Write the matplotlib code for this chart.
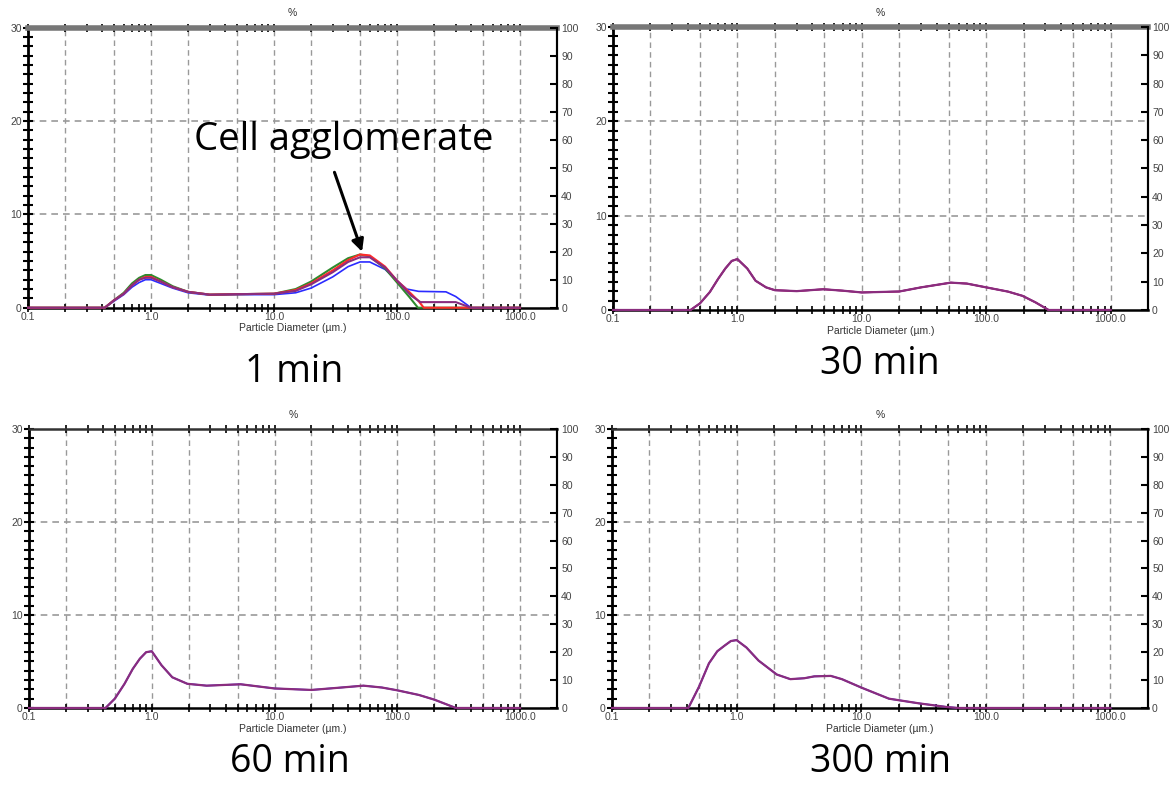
import numpy as np
import matplotlib.pyplot as plt
from matplotlib.ticker import FixedLocator, NullFormatter

# ---- data (particle diameter um, volume %) ----
# 1 min, four repeat runs
tl_red_x = [0.1, 0.42, 0.5, 0.6, 0.7, 0.8, 0.9, 1.0, 1.2, 1.5, 2.0, 3.0, 5.0, 10, 15, 20, 30, 40, 50, 60, 80, 100, 130, 150, 165, 1000]
tl_red_y = [0, 0, 0.8, 1.5, 2.4, 3.0, 3.3, 3.3, 2.8, 2.2, 1.7, 1.4, 1.45, 1.5, 1.9, 2.6, 4.0, 5.1, 5.7, 5.6, 4.4, 2.9, 1.5, 0.7, 0, 0]
tl_green_x = [0.1, 0.42, 0.5, 0.6, 0.7, 0.8, 0.9, 1.0, 1.2, 1.5, 2.0, 3.0, 5.0, 10, 15, 20, 30, 40, 50, 60, 80, 100, 125, 148, 1000]
tl_green_y = [0, 0, 0.8, 1.6, 2.6, 3.2, 3.5, 3.5, 3.0, 2.3, 1.7, 1.4, 1.45, 1.5, 2.0, 2.8, 4.3, 5.3, 5.7, 5.5, 4.2, 2.7, 1.2, 0, 0]
tl_blue_x = [0.1, 0.42, 0.5, 0.6, 0.7, 0.8, 0.9, 1.0, 1.2, 1.5, 2.0, 3.0, 5.0, 10, 15, 20, 30, 40, 50, 60, 80, 100, 120, 150, 250, 300, 400, 1000]
tl_blue_y = [0, 0, 0.7, 1.4, 2.2, 2.7, 3.0, 3.0, 2.6, 2.1, 1.6, 1.35, 1.4, 1.4, 1.6, 2.1, 3.3, 4.4, 4.9, 4.9, 4.1, 2.9, 2.0, 1.75, 1.7, 1.2, 0, 0]
tl_purple_x = [0.1, 0.42, 0.5, 0.6, 0.7, 0.8, 0.9, 1.0, 1.2, 1.5, 2.0, 3.0, 5.0, 10, 15, 20, 30, 40, 50, 60, 80, 100, 130, 155, 300, 400, 1000]
tl_purple_y = [0, 0, 0.8, 1.5, 2.4, 3.0, 3.2, 3.2, 2.8, 2.2, 1.7, 1.4, 1.45, 1.5, 1.8, 2.5, 3.8, 4.9, 5.4, 5.4, 4.3, 2.9, 1.3, 0.6, 0.6, 0, 0]

# 30 min
tr_x = [0.1, 0.42, 0.5, 0.6, 0.7, 0.8, 0.9, 1.0, 1.2, 1.4, 1.7, 2.0, 3.0, 4.9, 7.0, 10, 20, 30, 52, 70, 100, 150, 196, 250, 318, 1000]
tr_y = [0, 0, 0.7, 1.9, 3.3, 4.4, 5.2, 5.4, 4.4, 3.1, 2.4, 2.1, 2.0, 2.2, 2.05, 1.86, 1.96, 2.4, 2.9, 2.8, 2.4, 1.95, 1.5, 0.8, 0, 0]

# 60 min
bl_x = [0.1, 0.42, 0.5, 0.6, 0.7, 0.8, 0.9, 1.0, 1.2, 1.47, 1.95, 2.8, 5.3, 10, 20, 35, 53, 75, 100, 150, 200, 300, 1000]
bl_y = [0, 0, 1.0, 2.6, 4.2, 5.3, 6.0, 6.1, 4.6, 3.3, 2.6, 2.4, 2.55, 2.1, 1.94, 2.2, 2.4, 2.2, 1.9, 1.4, 0.9, 0, 0]

# 300 min
br_x = [0.1, 0.41, 0.5, 0.6, 0.7, 0.8, 0.9, 1.0, 1.2, 1.5, 2.1, 2.7, 3.5, 4.2, 5.7, 7.0, 10, 16.7, 29, 49, 60, 1000]
br_y = [0, 0, 2.3, 4.8, 6.1, 6.7, 7.2, 7.3, 6.5, 5.1, 3.6, 3.1, 3.2, 3.4, 3.45, 3.1, 2.2, 1.0, 0.5, 0.1, 0, 0]

decade_labels = ['0.1', '1.0', '10.0', '100.0', '1000.0']
decades = [0.1, 1, 10, 100, 1000]
grid_x = [0.2, 0.5, 1, 2, 5, 10, 20, 50, 100, 200, 500, 1000]
minor_x = [m * d for d in [0.1, 1, 10, 100, 1000] for m in range(2, 10) if m * d < 2000]

plt.rcParams['font.family'] = ['Liberation Sans', 'DejaVu Sans']
fig = plt.figure(figsize=(11.69, 7.87), dpi=100)


def make_panel(rect, thick_top):
    ax = fig.add_axes(rect)
    ax.set_xscale('log')
    ax.set_xlim(0.1, 2000)
    ax.set_ylim(0, 30)
    ax.xaxis.set_major_locator(FixedLocator(decades))
    ax.set_xticklabels(decade_labels)
    ax.xaxis.set_minor_locator(FixedLocator(minor_x))
    ax.xaxis.set_minor_formatter(NullFormatter())
    ax.set_yticks([0, 10, 20, 30])
    ax.yaxis.set_minor_locator(FixedLocator(range(0, 31)))
    ax.tick_params(axis='x', which='both', direction='inout', length=6, width=1.2,
                   top=True, labelsize=7.5, pad=0, labelcolor='#444444')
    ax.tick_params(axis='y', which='both', direction='inout', length=7, width=1.5,
                   labelsize=7.5, pad=1, labelcolor='#444444')
    for v in grid_x:
        ax.axvline(v, color='#999999', ls=(0, (4, 3)), lw=1.0, zorder=0)
    for v in [10, 20]:
        ax.axhline(v, color='#999999', ls=(0, (4, 3)), lw=1.2, zorder=0)
    ax.spines['left'].set_linewidth(2.0)
    ax.spines['bottom'].set_linewidth(1.8)
    ax.spines['right'].set_linewidth(1.5)
    if thick_top:
        ax.spines['top'].set_linewidth(4)
        ax.spines['top'].set_color('#777777')
    else:
        ax.spines['top'].set_linewidth(1.8)
        ax.spines['top'].set_color('#333333')
    ax.set_xlabel('Particle Diameter (µm.)', fontsize=7.5, labelpad=1, color='#333333')
    ax.set_title('%', fontsize=7.5, pad=8, color='#333333')

    ax2 = ax.twinx()
    ax2.set_ylim(0, 100)
    ax2.set_yticks(range(0, 101, 10))
    ax2.tick_params(axis='y', direction='in', length=5, width=1.5, labelsize=7.5,
                    pad=3, labelcolor='#444444')
    ax2.spines['right'].set_linewidth(1.5)
    for s in ['left', 'top', 'bottom']:
        ax2.spines[s].set_visible(False)
    return ax


purple = '#8a2d7e'
big_font = ['Open Sans', 'DejaVu Sans']
big = dict(fontsize=27, family=big_font, ha='center', va='center')
line_kw = dict(zorder=3, clip_on=False)

ax1 = make_panel([0.024, 0.609, 0.4525, 0.356], True)
ax1.plot(tl_blue_x, tl_blue_y, color='#2b2bff', lw=1.2, **line_kw)
ax1.plot(tl_green_x, tl_green_y, color='#2e8b2e', lw=1.5, **line_kw)
ax1.plot(tl_red_x, tl_red_y, color='#ff2a2a', lw=1.5, **line_kw)
ax1.plot(tl_purple_x, tl_purple_y, color=purple, lw=1.5, **line_kw)
ax1.text(37, 18.0, 'Cell agglomerate', fontsize=27.5, family=big_font, ha='center', va='center')
ax1.annotate('', xy=(52, 6.0), xytext=(31, 14.5),
             arrowprops=dict(arrowstyle='-|>', color='black', lw=2.2, mutation_scale=18,
                             shrinkA=0, shrinkB=0))
fig.text(0.252, 0.527, '1 min', **big)

ax2 = make_panel([0.5244, 0.6061, 0.4576, 0.3596], True)
ax2.plot(tr_x, tr_y, color='#2b2bff', lw=1.2, **line_kw)
ax2.plot(tr_x, tr_y, color='#ff2a2a', lw=1.2, **line_kw)
ax2.plot(tr_x, tr_y, color=purple, lw=1.6, **line_kw)
fig.text(0.753, 0.538, '30 min', **big)

ax3 = make_panel([0.0248, 0.1004, 0.4517, 0.3545], False)
ax3.plot(bl_x, bl_y, color='#2b2bff', lw=1.2, **line_kw)
ax3.plot(bl_x, bl_y, color=purple, lw=1.6, **line_kw)
fig.text(0.248, 0.032, '60 min', **big)

ax4 = make_panel([0.5235, 0.1004, 0.4585, 0.3545], False)
ax4.plot(br_x, br_y, color='#2b2bff', lw=1.2, **line_kw)
ax4.plot(br_x, br_y, color=purple, lw=1.6, **line_kw)
fig.text(0.753, 0.032, '300 min', **big)

fig.savefig('out.png', dpi=100)
